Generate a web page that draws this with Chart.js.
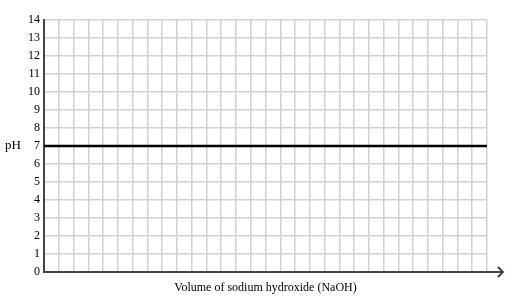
<!DOCTYPE html>
<html>
<head>
<meta charset="utf-8">
<script src="https://cdn.jsdelivr.net/npm/chart.js@4"></script>
<style>
    html, body { margin: 0; padding: 0; background: #fff; }
    #wrap { width: 512px; height: 301px; }
</style>
</head>
<body>
<div id="wrap"><canvas id="phChart"></canvas></div>
<script>
// values
const volumes = [0, 30];
const phValues = [7, 7];
const xMin = 0, xMax = 30;
const yMin = 0, yMax = 14;
const xTitle = 'Volume of sodium hydroxide (NaOH)';
const yTitle = 'pH';

const serif = "'Liberation Serif', 'Times New Roman', serif";

// axis arrow and horizontal "pH" label
const extras = {
    id: 'extras',
    afterDraw(chart) {
        const { ctx, chartArea } = chart;
        const y = chart.scales.y;
        ctx.save();
        ctx.strokeStyle = '#444';
        ctx.lineWidth = 2;
        ctx.beginPath();
        ctx.moveTo(chartArea.right - 1, chartArea.bottom);
        ctx.lineTo(chartArea.right + 16, chartArea.bottom);
        ctx.stroke();
        ctx.beginPath();
        ctx.moveTo(chartArea.right + 11, chartArea.bottom - 5);
        ctx.lineTo(chartArea.right + 16, chartArea.bottom);
        ctx.lineTo(chartArea.right + 11, chartArea.bottom + 5);
        ctx.stroke();

        ctx.fillStyle = '#000';
        ctx.font = '13px ' + serif;
        ctx.textAlign = 'left';
        ctx.textBaseline = 'middle';
        ctx.fillText(yTitle, 5, y.getPixelForValue(7));
        ctx.restore();
    }
};

new Chart(document.getElementById('phChart').getContext('2d'), {
    type: 'line',
    data: {
        labels: volumes,
        datasets: [{
            data: volumes.map((v, i) => ({ x: v, y: phValues[i] })),
            borderColor: '#000',
            borderWidth: 2.5,
            pointRadius: 0,
            fill: false,
            tension: 0
        }]
    },
    options: {
        responsive: true,
        maintainAspectRatio: false,
        animation: false,
        layout: { padding: { top: 20, right: 25, left: 0, bottom: 0 } },
        plugins: {
            legend: { display: false },
            tooltip: { enabled: false }
        },
        scales: {
            x: {
                type: 'linear',
                min: xMin,
                max: xMax,
                afterFit: scale => { scale.height = 29; },
                ticks: { display: false, stepSize: 1 },
                grid: { color: '#d2d2d2', lineWidth: 1.5, drawTicks: false },
                border: { color: '#444', width: 2 },
                title: {
                    display: true,
                    text: xTitle,
                    color: '#000',
                    font: { family: serif, size: 12 },
                    padding: { top: 0, bottom: 6 }
                }
            },
            y: {
                min: yMin,
                max: yMax,
                afterFit: scale => { scale.width = 44; },
                ticks: {
                    stepSize: 1,
                    color: '#000',
                    padding: 4,
                    font: { family: serif, size: 12 }
                },
                grid: { color: '#d2d2d2', lineWidth: 1.5, drawTicks: false },
                border: { color: '#444', width: 2 }
            }
        }
    },
    plugins: [extras]
});
</script>
</body>
</html>
